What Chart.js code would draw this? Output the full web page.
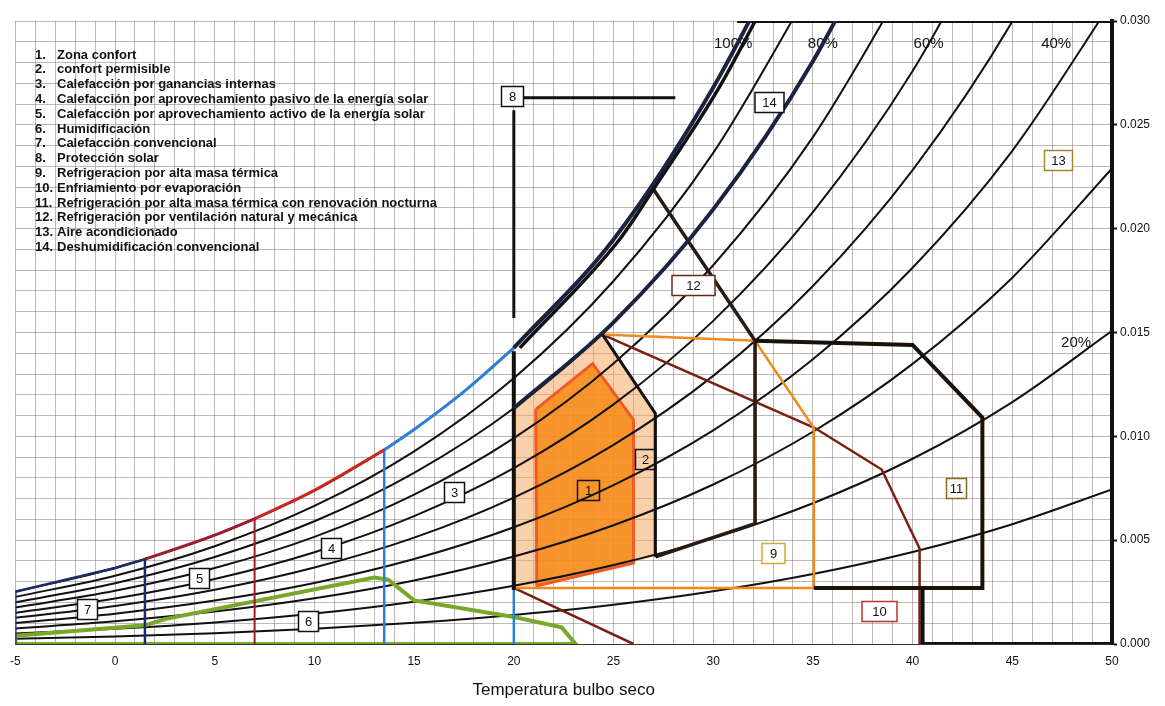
<!DOCTYPE html>
<html>
<head>
<meta charset="utf-8">
<script src="https://cdn.jsdelivr.net/npm/chart.js@4.4.0/dist/chart.umd.min.js"></script>
<style>
  html, body { margin: 0; padding: 0; background: #fff; }
</style>
</head>
<body>
<canvas id="psychro" width="1165" height="706"></canvas>
<script>
// dry bulb temperature nodes (°C) for the humidity curves
const temps = [-5, 0, 5, 10, 15, 20, 25, 30, 35, 40, 45, 50];

// humidity ratio (kg/kg)
const rh100 = [0.00252, 0.00366, 0.00524, 0.00740, 0.01033, 0.01426, 0.01948, 0.02680, 0.03600];
const rh90 = [0.00227, 0.00329, 0.00471, 0.00665, 0.00928, 0.01280, 0.01748, 0.02365, 0.03175];
const rh80 = [0.00201, 0.00293, 0.00419, 0.00591, 0.00824, 0.01135, 0.01549, 0.02093, 0.02806, 0.03735];
const rh70 = [0.00176, 0.00256, 0.00366, 0.00516, 0.00719, 0.00991, 0.01351, 0.01824, 0.02441, 0.03243];
const rh60 = [0.00151, 0.00219, 0.00313, 0.00442, 0.00616, 0.00847, 0.01154, 0.01556, 0.02080, 0.02759, 0.03635];
const rh50 = [0.00126, 0.00183, 0.00261, 0.00368, 0.00512, 0.00705, 0.00959, 0.01291, 0.01724, 0.02282, 0.02998, 0.03916];
const rh40 = [0.00101, 0.00146, 0.00209, 0.00294, 0.00409, 0.00562, 0.00765, 0.01029, 0.01371, 0.01812, 0.02375, 0.03093];
const rh30 = [0.00075, 0.00109, 0.00156, 0.00220, 0.00306, 0.00421, 0.00572, 0.00768, 0.01022, 0.01349, 0.01764, 0.02290];
const rh20 = [0.00050, 0.00073, 0.00104, 0.00147, 0.00204, 0.00280, 0.00380, 0.00510, 0.00678, 0.00892, 0.01165, 0.01508];
const rh10 = [0.00025, 0.00036, 0.00052, 0.00073, 0.00102, 0.00140, 0.00189, 0.00254, 0.00337, 0.00443, 0.00577, 0.00744];

// zone outlines as [temperature, humidity ratio]
const zone1 = [[21.1, 0.0113], [23.95, 0.0135], [26.0, 0.0108], [26.0, 0.0039], [21.15, 0.0028], [21.1, 0.0113]];
const zone2 = [[20, 0.01135], [21, 0.01208], [22, 0.01287], [23, 0.01369], [24.45, 0.0149], [27.1, 0.0111], [27.1, 0.0042], [20, 0.0026], [20, 0.01135]];
const zone2Edge = [[24.45, 0.0149], [27.1, 0.0111], [27.1, 0.0042]];
const zone3Top = [[13.5, 0.00935], [15, 0.01033], [17.5, 0.01215], [20, 0.01426]];
const zone3Sides = [[13.5, 0], [13.5, 0.00935]];
const zone20Low = [[20, 0], [20, 0.0027]];
const zone20High = [[20, 0.0026], [20, 0.0141]];
const zone4Top = [[7, 0.00603], [10, 0.00740], [13.5, 0.00935]];
const zone5Top = [[1.5, 0.00408], [5, 0.00524], [7, 0.00603]];
const zone5Side = [[7, 0.00603], [7, 0]];
const zone7 = [[-5, 0], [-5, 0.00252], [0, 0.00366], [1.5, 0.00408], [1.5, 0]];
const zone6 = [[-5, 0], [-5, 0.0004], [1.5, 0.0009], [2.5, 0.0012], [13.0, 0.0032], [13.7, 0.0031], [15.0, 0.0021], [20, 0.0013], [22.4, 0.0008], [23.1, 0], [-5, 0]];
const zone8Vert = [[20, 0.0157], [20, 0.0257]];
const zone8Horiz = [[20.4, 0.0263], [28.1, 0.0263]];
const zone9 = [[24.45, 0.0149], [32.1, 0.0146], [35.05, 0.0104], [35.05, 0.0027], [20, 0.0027]];
const zone10Low = [[20, 0.0027], [26, 0]];
const zone10High = [[24.45, 0.0149], [35.1, 0.0104], [38.45, 0.0084], [40.35, 0.0046], [40.35, 0]];
const zone11 = [[32.1, 0.0146], [40, 0.0144], [43.5, 0.0109], [43.5, 0.0027], [35.05, 0.0027]];
const zone11Base = [[40.5, 0.0027], [40.5, 0], [50, 0]];
const zone12 = [[27.0, 0.0219], [32.1, 0.0146], [32.1, 0.0058], [27.1, 0.0042]];
const zone14Edge = [[20.3, 0.01426], [25.3, 0.01948], [27.0, 0.0219], [30.3, 0.0268], [33.3, 0.0322]];
const satThick = [[20, 0.01426], [25, 0.01948], [30, 0.02680], [35, 0.03600]];
const rh80Thick = [[20, 0.01135], [25, 0.01549], [30, 0.02093], [35, 0.02806], [40, 0.03735]];
const topEdge = [[31.2, 0.030], [50, 0.030]];

// numbered zone labels placed in data coordinates
const zoneLabels = [
  { text: '1', x: 23.7, y: 0.0074 },
  { text: '2', x: 26.6, y: 0.0089 },
  { text: '3', x: 17.0, y: 0.0073 },
  { text: '4', x: 10.85, y: 0.0046 },
  { text: '5', x: 4.2, y: 0.0032 },
  { text: '6', x: 9.7, y: 0.0011 },
  { text: '7', x: -1.4, y: 0.0017 },
  { text: '8', x: 19.9, y: 0.0264 },
  { text: '9', x: 33.0, y: 0.0044 },
  { text: '10', x: 38.3, y: 0.0016 },
  { text: '11', x: 42.2, y: 0.0075 },
  { text: '12', x: 29.0, y: 0.0173 },
  { text: '13', x: 47.3, y: 0.0233 },
  { text: '14', x: 32.8, y: 0.0261 }
];

const rhLabels = [
  { text: '100%', x: 31.0, y: 0.0289 },
  { text: '80%', x: 35.5, y: 0.0289 },
  { text: '60%', x: 40.8, y: 0.0289 },
  { text: '40%', x: 47.2, y: 0.0289 },
  { text: '20%', x: 48.2, y: 0.0145 }
];

const zoneNames = [
  'Zona confort',
  'confort permisible',
  'Calefacción por ganancias internas',
  'Calefacción por aprovechamiento pasivo de la energía solar',
  'Calefacción por aprovechamiento activo de la energía solar',
  'Humidificación',
  'Calefacción convencional',
  'Protección solar',
  'Refrigeracion por alta masa térmica',
  'Enfriamiento por evaporación',
  'Refrigeración por alta masa térmica con renovación nocturna',
  'Refrigeración por ventilación natural y mecánica',
  'Aire acondicionado',
  'Deshumidificación convencional'
];

const boxStyle = {
  '1': { w: 22, color: '#111', fill: false },
  '2': { w: 20, color: '#111', fill: false },
  '3': { w: 20, color: '#111', fill: true },
  '4': { w: 20, color: '#111', fill: true },
  '5': { w: 20, color: '#111', fill: true },
  '6': { w: 20, color: '#111', fill: true },
  '7': { w: 20, color: '#111', fill: true },
  '8': { w: 22, color: '#111', fill: true },
  '9': { w: 23, color: '#d4a838', fill: true },
  '10': { w: 35, color: '#c0302a', fill: true },
  '11': { w: 20, color: '#8a6a20', fill: true },
  '12': { w: 43, color: '#6a2a1a', fill: true },
  '13': { w: 28, color: '#a08a30', fill: true },
  '14': { w: 29, color: '#111', fill: true }
};

const FONT = '"Liberation Sans", Arial, sans-serif';
const gridColor = 'rgba(130, 110, 108, 0.5)';

const pairs = arr => arr.map(([x, y]) => ({ x, y }));
const curve = vals => vals.map((y, i) => ({ x: temps[i], y }));

function lineSet(data, color, width, order, extra) {
  return Object.assign({
    data: data,
    borderColor: color,
    borderWidth: width,
    showLine: true,
    pointRadius: 0,
    pointHoverRadius: 0,
    fill: false,
    tension: 0,
    order: order
  }, extra || {});
}

const smooth = { cubicInterpolationMode: 'monotone' };

const datasets = [
  // fills
  lineSet(pairs(zone2), 'rgba(0,0,0,0)', 0, 100, { fill: 'shape', backgroundColor: 'rgba(245, 170, 100, 0.55)' }),
  lineSet(pairs(zone1), '#f05a24', 3, 99, { fill: 'shape', backgroundColor: 'rgba(247, 138, 22, 0.85)' }),
  // relative humidity curves
  ...[rh100, rh90, rh80, rh70, rh60, rh50, rh40, rh30, rh20, rh10].map(v =>
    lineSet(curve(v), '#111', 2, 50, smooth)),
  // zone boundaries
  lineSet(pairs(zone6), '#78a82a', 4, 20),
  lineSet(pairs(zone7), '#1f2b66', 2.5, 12),
  lineSet(pairs(zone5Top), '#9b1b30', 3, 12, smooth),
  lineSet(pairs(zone5Side), '#9b1b30', 2, 12),
  lineSet(pairs(zone4Top), '#c8281e', 3, 12, smooth),
  lineSet(pairs(zone3Top), '#2e7fd6', 3, 12, smooth),
  lineSet(pairs(zone3Sides), '#2e7fd6', 2.5, 12),
  lineSet(pairs(zone20Low), '#2e7fd6', 2.5, 12),
  lineSet(pairs(zone9), '#f08a1a', 2.5, 11),
  lineSet(pairs(zone10Low), '#7b2010', 2.5, 11),
  lineSet(pairs(zone10High), '#7b2010', 2.5, 11),
  lineSet(pairs(zone2Edge), '#111', 3, 8),
  lineSet(pairs(zone11), '#1a1208', 4, 8),
  lineSet(pairs(zone11Base), '#111', 4, 8),
  lineSet(pairs(zone12), '#2a1a10', 3.5, 8),
  lineSet(pairs(zone20High), '#111', 4, 7),
  lineSet(pairs(zone8Vert), '#111', 3, 7),
  lineSet(pairs(zone8Horiz), '#111', 3, 7),
  lineSet(pairs(zone14Edge), '#111', 3.5, 6, smooth),
  lineSet(pairs(satThick), '#1b2340', 4, 5, smooth),
  lineSet(pairs(rh80Thick), '#1b2340', 4, 5, smooth),
  lineSet(pairs(topEdge), '#111', 4, 5)
];

// relative humidity labels sit under the lines, as in the scan
const rhLabelPlugin = {
  id: 'rhLabels',
  beforeDatasetsDraw(chart) {
    const { ctx, scales: { x, y } } = chart;
    ctx.save();
    ctx.font = '15px ' + FONT;
    ctx.fillStyle = '#111';
    ctx.textAlign = 'center';
    ctx.textBaseline = 'middle';
    rhLabels.forEach(l => {
      ctx.fillText(l.text, x.getPixelForValue(l.x), y.getPixelForValue(l.y));
    });
    ctx.restore();
  }
};

const zoneBoxPlugin = {
  id: 'zoneBoxes',
  afterDatasetsDraw(chart) {
    const { ctx, scales: { x, y } } = chart;
    ctx.save();
    ctx.font = '13px ' + FONT;
    ctx.textAlign = 'center';
    ctx.textBaseline = 'middle';
    zoneLabels.forEach(l => {
      const px = Math.round(x.getPixelForValue(l.x));
      const py = Math.round(y.getPixelForValue(l.y));
      const st = boxStyle[l.text];
      if (st.fill) {
        ctx.fillStyle = '#fff';
        ctx.fillRect(px - st.w / 2, py - 10, st.w, 20);
      }
      ctx.lineWidth = 1.5;
      ctx.strokeStyle = st.color;
      ctx.strokeRect(px - st.w / 2 + 0.5, py - 9.5, st.w, 20);
      ctx.fillStyle = '#111';
      ctx.fillText(l.text, px + 0.5, py + 1);
    });
    ctx.restore();
  }
};

const zoneListPlugin = {
  id: 'zoneList',
  afterDraw(chart) {
    const ctx = chart.ctx;
    ctx.save();
    ctx.font = 'bold 13px ' + FONT;
    ctx.fillStyle = '#111';
    ctx.textBaseline = 'middle';
    zoneNames.forEach((name, i) => {
      const yy = 55 + i * 14.8;
      ctx.fillText((i + 1) + '.', 35, yy);
      ctx.fillText(name, 57, yy);
    });
    ctx.restore();
  }
};

const ctx = document.getElementById('psychro').getContext('2d');
new Chart(ctx, {
  type: 'scatter',
  data: { datasets: datasets },
  options: {
    responsive: false,
    animation: false,
    devicePixelRatio: 1,
    layout: { padding: { left: 12, top: 21, right: 0, bottom: 0 } },
    elements: { line: { capBezierPoints: false } },
    plugins: {
      legend: { display: false },
      tooltip: { enabled: false }
    },
    scales: {
      x: {
        type: 'linear',
        min: -5,
        max: 50,
        ticks: {
          stepSize: 1,
          autoSkip: false,
          maxRotation: 0,
          padding: 10,
          color: '#111',
          font: { family: FONT, size: 12 },
          callback: v => (v % 5 === 0 ? String(v) : '')
        },
        grid: { color: gridColor, lineWidth: 1, drawTicks: false },
        border: { color: '#333', width: 1 },
        title: {
          display: true,
          text: 'Temperatura bulbo seco',
          color: '#111',
          font: { family: FONT, size: 17 },
          padding: { top: 4, bottom: 5 }
        },
        afterFit: s => { s.height = 62; }
      },
      y: {
        type: 'linear',
        position: 'right',
        min: 0,
        max: 0.030,
        ticks: {
          stepSize: 0.001,
          autoSkip: false,
          padding: 3,
          color: '#111',
          font: { family: FONT, size: 12 },
          callback: v => (Math.round(v * 1000) % 5 === 0 ? v.toFixed(3) : '')
        },
        grid: {
          color: gridColor,
          lineWidth: 1,
          drawTicks: true,
          tickLength: 5,
          tickWidth: 2,
          tickColor: c => (Math.round(c.tick.value * 1000) % 5 === 0 ? '#111' : 'rgba(0,0,0,0)')
        },
        border: { color: '#111', width: 4 },
        afterFit: s => { s.width = 53; }
      }
    }
  },
  plugins: [rhLabelPlugin, zoneBoxPlugin, zoneListPlugin]
});
</script>
</body>
</html>
